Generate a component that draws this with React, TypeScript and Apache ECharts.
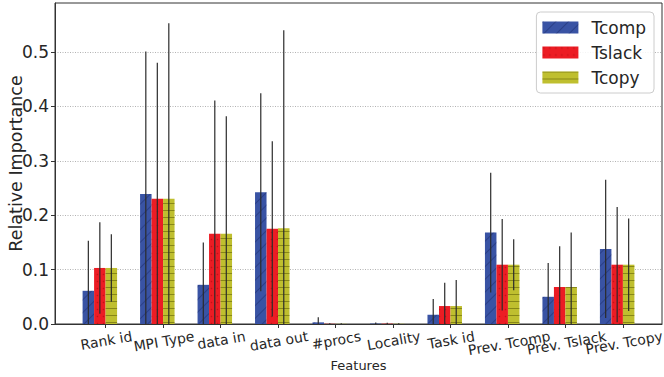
import React, { useEffect, useRef } from "react";
import * as echarts from "echarts";

const categories = [
  "Rank id",
  "MPI Type",
  "data in",
  "data out",
  "#procs",
  "Locality",
  "Task id",
  "Prev. Tcomp",
  "Prev. Tslack",
  "Prev. Tcopy",
];
const seriesNames = ["Tcomp", "Tslack", "Tcopy"];
const tcompMean = [0.061, 0.239, 0.072, 0.242, 0.003, 0.0008, 0.017, 0.168, 0.05, 0.138];
const tcompStd = [0.092, 0.262, 0.078, 0.182, 0.0095, 0.002, 0.029, 0.11, 0.062, 0.127];
const tslackMean = [0.103, 0.23, 0.166, 0.175, 0.0004, 0.0006, 0.033, 0.109, 0.068, 0.109];
const tslackStd = [0.084, 0.25, 0.245, 0.161, 0.001, 0.0015, 0.043, 0.084, 0.075, 0.106];
const tcopyMean = [0.103, 0.23, 0.166, 0.176, 0.0003, 0.0004, 0.033, 0.109, 0.068, 0.109];
const tcopyStd = [0.062, 0.323, 0.216, 0.364, 0.001, 0.001, 0.048, 0.047, 0.1, 0.085];
const yTicks = [0, 0.1, 0.2, 0.3, 0.4, 0.5];

const means = [tcompMean, tslackMean, tcopyMean];
const stds = [tcompStd, tslackStd, tcopyStd];
const colors = ["#3953a4", "#ec1c24", "#bfbf2f"];
const offsets = [-0.3, -0.1, 0.1];
const X_MIN = -0.88;
const X_MAX = 9.68;
const Y_MAX = 0.59;
const FONT = "DejaVu Sans";
const TXT = "#262626";
const XLABEL_SIZE = 14;

const decals: any[] = [
  {
    symbol: "rect",
    symbolSize: 1,
    color: "rgba(15,25,80,0.35)",
    dashArrayX: [1, 0],
    dashArrayY: [1, 8],
    rotation: -Math.PI / 4,
  },
  {
    symbol: "circle",
    symbolSize: 0.5,
    color: "rgba(120,0,0,0.35)",
    dashArrayX: [3, 3],
    dashArrayY: [3, 3.5],
    rotation: 0,
  },
  {
    symbol: "rect",
    symbolSize: 1,
    color: "rgba(80,80,0,0.5)",
    dashArrayX: [1, 0],
    dashArrayY: [1, 6],
    rotation: 0,
  },
];

function measure(text: string): number {
  const c = document.createElement("canvas").getContext("2d");
  if (!c) return text.length * 8;
  c.font = `${XLABEL_SIZE}px "${FONT}"`;
  return c.measureText(text).width;
}

export default function App() {
  const ref = useRef<HTMLDivElement>(null);
  useEffect(() => {
    document.body.style.margin = "0";
    if (!ref.current) return;
    const chart = echarts.init(ref.current, null, { renderer: "svg" });

    const rich: Record<string, any> = {};
    categories.forEach((c, i) => {
      const w = measure(c);
      rich["l" + i] = {
        fontSize: XLABEL_SIZE,
        fontFamily: FONT,
        color: TXT,
        padding: [w * Math.sin((10 * Math.PI) / 180), 0, 0, 0],
      };
    });

    const idx = categories.map((_, i) => i);
    const evenIdx = idx.filter((i) => i % 2 === 0);
    const oddIdx = idx.filter((i) => i % 2 === 1);

    const labelCfg = (vals: number[]) => ({
      customValues: vals,
      formatter: (v: number) => {
        const i = Math.round(v);
        return `{l${i}|${categories[i] ?? ""}}`;
      },
      rich,
      rotate: 10,
      align: "center",
      verticalAlign: "middle",
      margin: 12,
      showMinLabel: true,
      showMaxLabel: true,
      hideOverlap: false,
      fontSize: XLABEL_SIZE,
      fontFamily: FONT,
      color: TXT,
    });

    const barSeries = seriesNames.map((name, s) => ({
      name,
      type: "bar",
      xAxisIndex: 0,
      barWidth: 11.5,
      barGap: "-100%",
      itemStyle: { color: colors[s], decal: decals[s] },
      data: means[s].map((m, i) => [i + offsets[s], m]),
      z: 2,
    }));

    const errData: number[][] = [];
    means.forEach((arr, s) => {
      arr.forEach((m, i) => {
        errData.push([i + offsets[s], m - stds[s][i], m + stds[s][i]]);
      });
    });

    const errSeries = {
      name: "err",
      type: "custom",
      xAxisIndex: 0,
      z: 5,
      encode: { x: 0, y: [1, 2] },
      data: errData,
      renderItem: (params: any, api: any) => {
        const x = api.value(0);
        const lo = Math.max(0, api.value(1));
        const hi = Math.min(Y_MAX, api.value(2));
        const p1 = api.coord([x, lo]);
        const p2 = api.coord([x, hi]);
        return {
          type: "line",
          shape: { x1: p1[0], y1: p1[1], x2: p2[0], y2: p2[1] },
          style: { stroke: "#2b2b2b", lineWidth: 1.2 },
        };
      },
    };

    chart.setOption({
      animation: false,
      grid: {
        left: 55,
        top: 3,
        width: 607,
        height: 321,
        show: true,
        borderColor: "#333",
        borderWidth: 1,
        containLabel: false,
        outerBoundsMode: "none",
      },
      legend: {
        data: seriesNames,
        orient: "vertical",
        right: 10,
        top: 12,
        itemWidth: 36,
        itemHeight: 12,
        itemGap: 8,
        padding: [7, 8, 7, 6],
        backgroundColor: "rgba(255,255,255,0.85)",
        borderColor: "#cccccc",
        borderWidth: 1,
        borderRadius: 4,
        icon: "rect",
        textStyle: {
          fontSize: 17,
          fontFamily: FONT,
          color: TXT,
          lineHeight: 17,
          padding: [0, 0, 0, 8],
        },
      },
      xAxis: [
        {
          type: "value",
          position: "bottom",
          min: X_MIN,
          max: X_MAX,
          splitLine: { show: false },
          axisLine: { show: true, onZero: false, lineStyle: { color: "#333", width: 1 } },
          axisTick: {
            show: true,
            customValues: idx,
            length: 4,
            lineStyle: { color: "#333" },
          },
          axisLabel: labelCfg(evenIdx),
          name: "Features",
          nameLocation: "middle",
          nameGap: 35,
          nameMoveOverlap: false,
          nameTextStyle: { fontSize: 13, fontFamily: FONT, color: TXT },
        },
        {
          type: "value",
          position: "bottom",
          offset: 0,
          min: X_MIN,
          max: X_MAX,
          splitLine: { show: false },
          axisLine: { show: false, onZero: false },
          axisTick: { show: false },
          axisLabel: labelCfg(oddIdx),
        },
      ],
      yAxis: {
        type: "value",
        min: 0,
        max: Y_MAX,
        interval: 0.1,
        axisLine: { show: true, onZero: false, lineStyle: { color: "#333", width: 1 } },
        axisTick: { show: true, length: 4, customValues: yTicks, lineStyle: { color: "#333" } },
        axisLabel: {
          customValues: yTicks,
          formatter: (v: number) => v.toFixed(1),
          margin: 6,
          fontSize: 17,
          fontFamily: FONT,
          color: TXT,
          showMinLabel: true,
          showMaxLabel: true,
        },
        splitLine: {
          show: true,
          lineStyle: { color: "#a0a0a0", width: 0.8, type: [1, 1.5] },
        },
        name: "Relative Importance",
        nameLocation: "middle",
        nameGap: 30,
        nameMoveOverlap: false,
        nameTextStyle: { fontSize: 17.5, fontFamily: FONT, color: TXT },
      },
      series: [...barSeries, errSeries],
    });
    return () => chart.dispose();
  }, []);

  return <div ref={ref} style={{ width: 664, height: 377 }} />;
}
